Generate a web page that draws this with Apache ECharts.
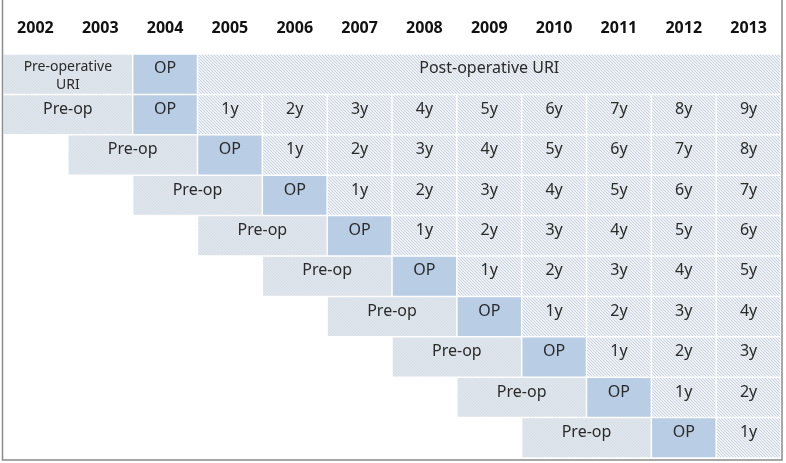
<!DOCTYPE html>
<html>
<head>
<meta charset="utf-8">
<script src="https://cdn.jsdelivr.net/npm/echarts@6/dist/echarts.min.js"></script>
<style>
html,body{margin:0;padding:0;background:#fff;}
#chart{width:786px;height:463px;}
</style>
</head>
<body>
<div id="chart"></div>
<script>
// ---- data ----
const years = ['2002','2003','2004','2005','2006','2007','2008','2009','2010','2011','2012','2013'];
const rowIds = ['r1','r2','r3','r4','r5','r6','r7','r8','r9','r10'];
// column index (into years) of the operation year, per row
const opColumn = [2, 2, 3, 4, 5, 6, 7, 8, 9, 10];
// pre-operative label per row (spans the two columns before OP)
const preLabels = ['Pre-operative\nURI','Pre-op','Pre-op','Pre-op','Pre-op','Pre-op','Pre-op','Pre-op','Pre-op','Pre-op'];
const opLabels = ['OP','OP','OP','OP','OP','OP','OP','OP','OP','OP'];
// follow-up labels per row after OP
const postLabels = [
  ['Post-operative URI'],
  ['1y','2y','3y','4y','5y','6y','7y','8y','9y'],
  ['1y','2y','3y','4y','5y','6y','7y','8y'],
  ['1y','2y','3y','4y','5y','6y','7y'],
  ['1y','2y','3y','4y','5y','6y'],
  ['1y','2y','3y','4y','5y'],
  ['1y','2y','3y','4y'],
  ['1y','2y','3y'],
  ['1y','2y'],
  ['1y']
];

// ---- build cells: [colStart, colEnd, row, label, kind] ----
const cells = [];
rowIds.forEach((r, i) => {
  const op = opColumn[i];
  cells.push([op - 2, op - 1, i, preLabels[i], 'pre']);
  cells.push([op, op, i, opLabels[i], 'op']);
  const post = postLabels[i];
  if (post.length === 1 && i === 0) {
    cells.push([op + 1, years.length - 1, i, post[0], 'post']);
  } else {
    post.forEach((lab, k) => cells.push([op + 1 + k, op + 1 + k, i, lab, 'post']));
  }
});

// ---- patterns ----
function makePattern(bg, line, size) {
  const c = document.createElement('canvas');
  c.width = size; c.height = size;
  const ctx = c.getContext('2d');
  ctx.fillStyle = bg; ctx.fillRect(0, 0, size, size);
  ctx.fillStyle = line;
  for (let k = 0; k < size; k++) ctx.fillRect(k, k, 1, 1);
  return c;
}
const postFill = { image: makePattern('#edf0f4', '#cbd4de', 3), repeat: 'repeat' };
const preFill = { image: makePattern('#dfe5ec', '#d7dee6', 3), repeat: 'repeat' };
const opFill = '#b9cde5';

const chart = echarts.init(document.getElementById('chart'), null, { renderer: 'canvas' });
chart.setOption({
  animation: false,
  backgroundColor: '#ffffff',
  grid: { left: 3, right: 5, top: 54, bottom: 5, containLabel: false },
  xAxis: {
    type: 'category', data: years, position: 'top',
    axisLine: { show: false }, axisTick: { show: false }, splitLine: { show: false },
    axisLabel: { margin: 18, fontFamily: 'Noto Sans', fontWeight: 'bold', fontSize: 16, color: '#111' }
  },
  yAxis: {
    type: 'category', data: rowIds, inverse: true, show: false
  },
  graphic: [{
    type: 'rect', silent: true, z: 100,
    shape: { x: 2.5, y: -5, width: 779.5, height: 465 },
    style: { fill: null, stroke: '#8a8a8a', lineWidth: 1.5 }
  }],
  series: [{
    type: 'custom',
    data: cells,
    encode: { x: [0, 1], y: 2 },
    renderItem: function (params, api) {
      const s = api.value(0), e = api.value(1), r = api.value(2);
      const label = cells[params.dataIndex][3];
      const kind = cells[params.dataIndex][4];
      const size = api.size([1, 1]);
      const p0 = api.coord([s, r]);
      const p1 = api.coord([e, r]);
      const x0 = p0[0] - size[0] / 2 + 0.75;
      const x1 = p1[0] + size[0] / 2 - 0.75;
      const y0 = p0[1] - size[1] / 2 + 0.75;
      const y1 = p0[1] + size[1] / 2 - 0.75;
      const fill = kind === 'op' ? opFill : (kind === 'pre' ? preFill : postFill);
      const small = label.indexOf('\n') >= 0;
      return {
        type: 'group',
        children: [{
          type: 'rect',
          shape: { x: x0, y: y0, width: x1 - x0, height: y1 - y0 },
          style: { fill: fill }
        }, {
          type: 'text',
          x: (x0 + x1) / 2,
          y: y0 + 3,
          style: {
            text: label,
            fill: '#2a2a2a',
            font: (small ? '14px' : '16px') + ' "Noto Sans"',
            lineHeight: small ? 18 : 22,
            align: 'center',
            verticalAlign: 'top'
          }
        }]
      };
    }
  }]
});
</script>
</body>
</html>
